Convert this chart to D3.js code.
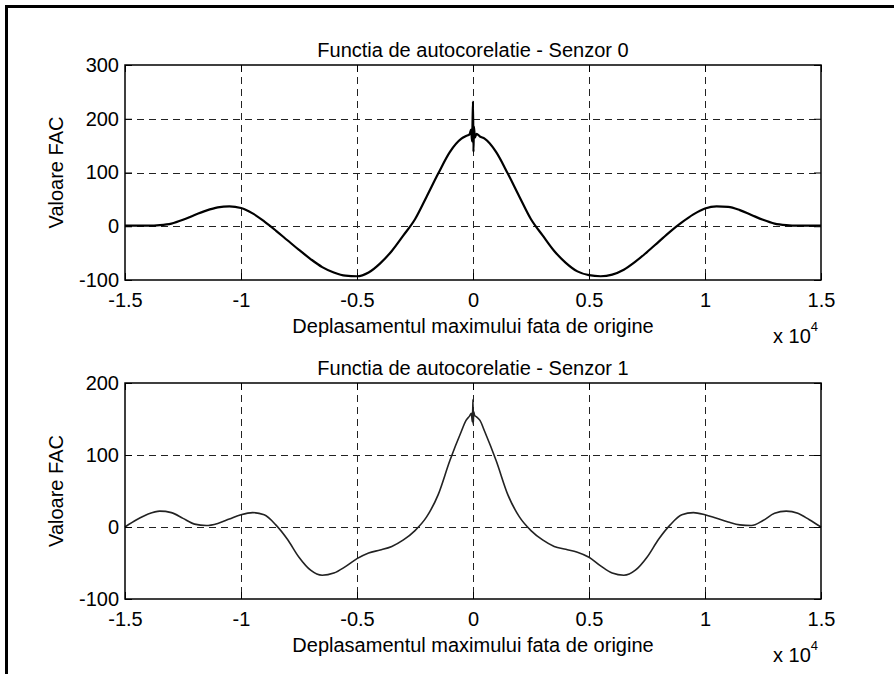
<!DOCTYPE html>
<html><head><meta charset="utf-8">
<script src="https://cdn.jsdelivr.net/npm/d3@7"></script>
<style>
body{margin:0;background:#fff}
text{font-family:"Liberation Sans",Arial,Helvetica,sans-serif;fill:#000}
</style>
</head><body>
<svg id="c" width="894" height="674"></svg>
<script>
// ---- data (x in units of 1e4) ----
const xTicks = [-1.5,-1,-0.5,0,0.5,1,1.5];
const xTickLabels = ["-1.5","-1","-0.5","0","0.5","1","1.5"];
const yTicks0 = [-100,0,100,200,300];
const yTicks1 = [-100,0,100,200];
const titles = ["Functia de autocorelatie - Senzor 0","Functia de autocorelatie - Senzor 1"];
const xLabel = "Deplasamentul maximului fata de origine";
const yLabel = "Valoare FAC";

const lagX0 = [-1.5,-1.45,-1.4,-1.35,-1.3,-1.25,-1.2,-1.15,-1.1,-1.05,-1.0,-0.95,-0.9,-0.85,-0.8,-0.75,-0.7,-0.65,-0.6,-0.55,-0.5,-0.45,-0.4,-0.35,-0.3,-0.25,-0.2,-0.15,-0.1,-0.05,-0.03,-0.015,-0.008,-0.004,-0.002,0,0.002,0.004,0.008,0.015,0.03,0.05,0.1,0.15,0.2,0.25,0.3,0.35,0.4,0.45,0.5,0.55,0.6,0.65,0.7,0.75,0.8,0.85,0.9,0.95,1.0,1.05,1.1,1.15,1.2,1.25,1.3,1.35,1.4,1.45,1.5];
const fac0 = [1,1,1,2,5,12,21,29,35,37,34,24,9,-8,-26,-44,-61,-76,-86,-92,-93,-86,-69,-46,-17,13,55,98,138,163,168,171,180,158,192,232,138,186,165,172,167,163,138,98,55,13,-17,-46,-68,-84,-91,-93,-90,-81,-66,-48,-29,-10,7,22,33,37,36,30,21,12,5,2,1,1,1];

const lagX1 = [-1.5,-1.45,-1.4,-1.35,-1.3,-1.25,-1.2,-1.15,-1.1,-1.05,-1.0,-0.95,-0.9,-0.85,-0.8,-0.75,-0.7,-0.65,-0.6,-0.55,-0.5,-0.45,-0.4,-0.35,-0.3,-0.25,-0.2,-0.15,-0.1,-0.05,-0.03,-0.015,-0.007,-0.003,-0.001,0,0.001,0.003,0.007,0.015,0.03,0.05,0.1,0.15,0.2,0.25,0.3,0.35,0.4,0.45,0.5,0.55,0.6,0.65,0.7,0.75,0.8,0.85,0.9,0.95,1.0,1.05,1.1,1.15,1.2,1.25,1.3,1.35,1.4,1.45,1.5];
const fac1 = [0,10,18,22,20,12,4,2,5,11,17,20,17,3,-17,-42,-60,-67,-64,-55,-44,-36,-32,-27,-18,-5,14,45,92,133,148,154,158,146,165,177,142,160,155,153,148,133,92,45,14,-5,-18,-27,-31,-35,-42,-54,-64,-67,-60,-42,-17,3,17,20,17,12,7,3,2,9,19,22,19,10,0];

// ---- layout ----
const svg = d3.select("#c");
const FS = 20;
// outer frame
svg.append("line").attr("x1",6.5).attr("x2",6.5).attr("y1",5).attr("y2",674).attr("stroke","#000").attr("stroke-width",3);
svg.append("line").attr("x1",5).attr("x2",894).attr("y1",6.5).attr("y2",6.5).attr("stroke","#000").attr("stroke-width",3);

function panel(cfg){
  const L=125, R=821, T=cfg.top, B=cfg.bottom;
  const x = d3.scaleLinear().domain([-1.5,1.5]).range([L,R]);
  const y = d3.scaleLinear().domain(cfg.yDomain).range([B,T]);
  const g = svg.append("g");

  // grid
  const gg = g.append("g").attr("stroke","#222").attr("stroke-width",1).attr("stroke-dasharray","7,5");
  xTicks.slice(1,-1).forEach(v=>{
    const px=Math.round(x(v))+0.5;
    gg.append("line").attr("x1",px).attr("x2",px).attr("y1",T).attr("y2",B);
  });
  cfg.yTicks.slice(1,-1).forEach(v=>{
    const py=Math.round(y(v))+0.5;
    gg.append("line").attr("x1",L).attr("x2",R).attr("y1",py).attr("y2",py);
  });

  // curve
  const pts = cfg.xs.map((v,i)=>[v,cfg.ys[i]]);
  g.append("path").datum(pts)
    .attr("fill","none").attr("stroke",cfg.color).attr("stroke-width",cfg.width)
    .attr("stroke-linejoin","round")
    .attr("d", d3.line().x(d=>x(d[0])).y(d=>y(d[1])).curve(d3.curveMonotoneX));

  // axes
  const fmt = d=>xTickLabels[xTicks.indexOf(d)];
  const ax = g.append("g").attr("transform",`translate(0,${B})`)
    .call(d3.axisBottom(x).tickValues(xTicks).tickFormat(fmt).tickSize(-7).tickPadding(13));
  const axT = g.append("g").attr("transform",`translate(0,${T})`)
    .call(d3.axisTop(x).tickValues(xTicks).tickFormat("").tickSize(-7));
  const ay = g.append("g").attr("transform",`translate(${L},0)`)
    .call(d3.axisLeft(y).tickValues(cfg.yTicks).tickFormat(d=>String(d)).tickSize(-7).tickPadding(6));
  const ayR = g.append("g").attr("transform",`translate(${R},0)`)
    .call(d3.axisRight(y).tickValues(cfg.yTicks).tickFormat("").tickSize(-7));
  [ax,axT,ay,ayR].forEach(a=>{
    a.select(".domain").remove();
    a.attr("font-size",FS).attr("font-family",null);
    a.selectAll("line").attr("stroke","#000").attr("stroke-width",1);
    a.selectAll("text").attr("fill","#000");
  });

  // box
  g.append("rect").attr("x",L).attr("y",T).attr("width",R-L).attr("height",B-T)
    .attr("fill","none").attr("stroke","#000").attr("stroke-width",1.5);

  // title
  g.append("text").attr("x",(L+R)/2).attr("y",T-8).attr("text-anchor","middle")
    .attr("font-size",FS).text(cfg.title);
  // x label
  g.append("text").attr("x",(L+R)/2).attr("y",B+53).attr("text-anchor","middle")
    .attr("font-size",FS).text(xLabel);
  // exponent
  const ex = g.append("text").attr("x",773).attr("y",B+63).attr("font-size",FS);
  ex.append("tspan").text("x 10");
  ex.append("tspan").attr("font-size",13).attr("dy",-12).text("4");
  // y label
  g.append("text").attr("transform",`translate(63,${(T+B)/2}) rotate(-90)`)
    .attr("text-anchor","middle").attr("font-size",FS).text(yLabel);
}

panel({top:65,bottom:280,yDomain:[-100,300],yTicks:yTicks0,xs:lagX0,ys:fac0,title:titles[0],color:"#000",width:2.2});
panel({top:383,bottom:599,yDomain:[-100,200],yTicks:yTicks1,xs:lagX1,ys:fac1,title:titles[1],color:"#222",width:1.6});
</script>
</body></html>
